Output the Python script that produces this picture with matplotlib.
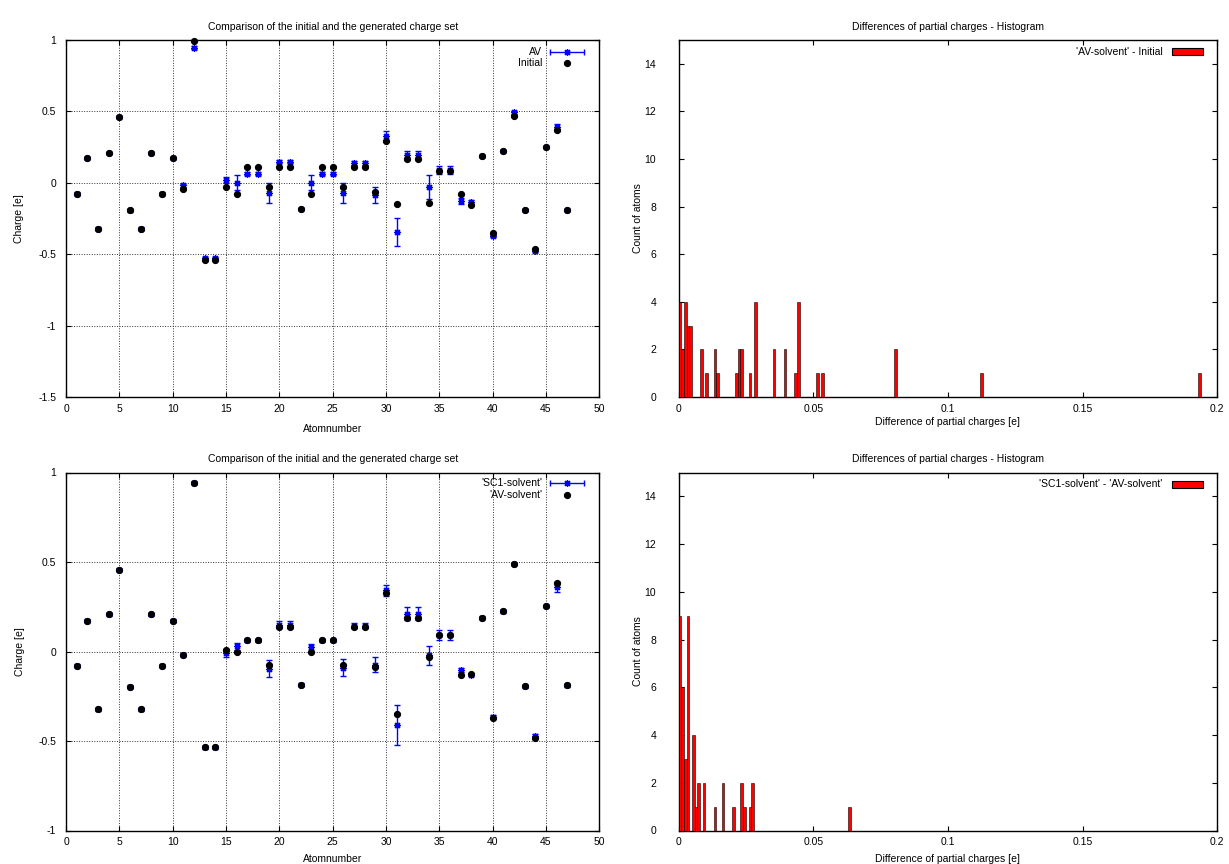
import matplotlib
matplotlib.use('Agg')
import matplotlib.pyplot as plt
from matplotlib.patches import Rectangle
from matplotlib.ticker import FormatStrFormatter, MultipleLocator

plt.rcParams['font.family'] = ['Liberation Sans', 'DejaVu Sans']
plt.rcParams['font.size'] = 7.5
plt.rcParams['axes.unicode_minus'] = False

# ---------------- data ----------------
atoms = list(range(1, 48))

initial = [-0.075, 0.175, -0.321, 0.210, 0.461, -0.193, -0.321, 0.210, -0.075, 0.175,
           -0.042, 0.996, -0.543, -0.543, -0.030, -0.081, 0.109, 0.109, -0.030, 0.109,
           0.109, -0.182, -0.081, 0.109, 0.109, -0.030, 0.109, 0.109, -0.065, 0.291,
           -0.151, 0.168, 0.168, -0.140, 0.086, 0.086, -0.077, -0.156, 0.186, -0.354,
           0.221, 0.470, -0.191, -0.466, 0.251, 0.372, -0.191]

av = [-0.075, 0.175, -0.321, 0.210, 0.461, -0.193, -0.321, 0.210, -0.075, 0.175,
      -0.016, 0.947, -0.530, -0.530, 0.019, 0.000, 0.063, 0.063, -0.070, 0.147,
      0.147, -0.182, 0.000, 0.063, 0.063, -0.070, 0.140, 0.140, -0.086, 0.326,
      -0.345, 0.198, 0.198, -0.028, 0.090, 0.090, -0.128, -0.135, 0.186, -0.373,
      0.221, 0.493, -0.191, -0.477, 0.251, 0.389, -0.191]

av_err = [0.008, 0.008, 0.008, 0.008, 0.008, 0.008, 0.008, 0.008, 0.008, 0.008,
          0.010, 0.010, 0.010, 0.010, 0.020, 0.053, 0.010, 0.010, 0.072, 0.010,
          0.010, 0.008, 0.053, 0.010, 0.010, 0.072, 0.012, 0.012, 0.058, 0.035,
          0.100, 0.023, 0.023, 0.083, 0.028, 0.028, 0.023, 0.012, 0.008, 0.010,
          0.008, 0.010, 0.008, 0.010, 0.008, 0.023, 0.008]

av_solvent = [-0.080, 0.173, -0.323, 0.209, 0.457, -0.196, -0.323, 0.209, -0.080, 0.173,
              -0.019, 0.942, -0.535, -0.535, 0.009, -0.004, 0.062, 0.062, -0.075, 0.136,
              0.136, -0.186, -0.004, 0.062, 0.062, -0.075, 0.136, 0.136, -0.086, 0.326,
              -0.349, 0.187, 0.187, -0.030, 0.093, 0.093, -0.129, -0.125, 0.188, -0.373,
              0.224, 0.489, -0.194, -0.481, 0.254, 0.384, -0.188]

sc1_solvent = [-0.080, 0.173, -0.323, 0.209, 0.457, -0.196, -0.323, 0.209, -0.080, 0.173,
               -0.019, 0.942, -0.535, -0.535, -0.009, 0.028, 0.062, 0.062, -0.097, 0.149,
               0.149, -0.186, 0.024, 0.062, 0.062, -0.091, 0.145, 0.145, -0.073, 0.341,
               -0.410, 0.211, 0.211, -0.022, 0.093, 0.093, -0.103, -0.131, 0.188, -0.364,
               0.224, 0.489, -0.194, -0.470, 0.254, 0.360, -0.188]

sc1_err = [0.008, 0.008, 0.008, 0.008, 0.008, 0.008, 0.008, 0.008, 0.008, 0.008,
           0.008, 0.008, 0.008, 0.008, 0.021, 0.019, 0.008, 0.008, 0.048, 0.020,
           0.020, 0.008, 0.020, 0.008, 0.008, 0.048, 0.015, 0.015, 0.040, 0.032,
           0.110, 0.035, 0.035, 0.054, 0.026, 0.026, 0.010, 0.008, 0.008, 0.010,
           0.008, 0.008, 0.008, 0.010, 0.008, 0.028, 0.008]

# histogram bins (left edge of each 0.001-wide bin) and counts
hist_top_bins = [0.000, 0.001, 0.002, 0.003, 0.004, 0.008, 0.010, 0.013, 0.014, 0.021,
                 0.022, 0.023, 0.026, 0.028, 0.035, 0.039, 0.043, 0.044, 0.051, 0.053,
                 0.080, 0.112, 0.193]
hist_top_counts = [4, 2, 4, 3, 3, 2, 1, 2, 1, 1,
                   2, 2, 1, 4, 2, 2, 1, 4, 1, 1,
                   2, 1, 1]

hist_bot_bins = [0.000, 0.001, 0.002, 0.003, 0.005, 0.006, 0.007, 0.009, 0.013, 0.016,
                 0.020, 0.023, 0.024, 0.026, 0.027, 0.063]
hist_bot_counts = [9, 6, 3, 9, 4, 1, 2, 2, 1, 2,
                   1, 2, 1, 1, 2, 1]
bin_width = 0.001

title_left = "Comparison of the initial and the generated charge set"
title_right = "Differences of partial charges - Histogram"

# ---------------- figure ----------------
W, H = 1229, 864
fig = plt.figure(figsize=(W / 100, H / 100), dpi=100)

def frac(l, t, r, b):
    return [l / W, 1 - b / H, (r - l) / W, (b - t) / H]

ax_tl = fig.add_axes(frac(66, 40, 599.3, 397))
ax_tr = fig.add_axes(frac(678.5, 40, 1217.3, 397))
ax_bl = fig.add_axes(frac(66, 472.5, 599.3, 830.5))
ax_br = fig.add_axes(frac(678.5, 472.5, 1217.3, 830.5))

grid_kw = dict(color='#333333', linestyle=(0, (1, 1.6)), linewidth=0.7)


def style_axes(ax, ypad):
    for s in ax.spines.values():
        s.set_linewidth(1.0)
        s.set_color('black')
    ax.tick_params(direction='in', length=3.5, width=0.8, top=True, right=True,
                   labelsize=7.5, colors='black')
    ax.tick_params(axis='x', pad=5)
    ax.tick_params(axis='y', pad=ypad)


def charge_panel(ax, x, y_err_vals, err, y_dots, ylim, ystep, lab_err, lab_dot, xlpad):
    ax.set_xlim(0, 50)
    ax.set_ylim(*ylim)
    ax.xaxis.set_major_locator(MultipleLocator(5))
    ax.yaxis.set_major_locator(MultipleLocator(ystep))
    ax.yaxis.set_major_formatter(FormatStrFormatter('%g'))
    ax.grid(True, **grid_kw)
    ax.set_axisbelow(True)
    ax.errorbar(x, y_err_vals, yerr=err, fmt='none', ecolor='blue', elinewidth=1.0,
                capsize=2, capthick=1.0, clip_on=False, zorder=3)
    ax.plot(x, y_err_vals, ls='none', marker=(8, 2, 0), ms=5, mew=0.9, color='blue',
            clip_on=False, zorder=4)
    ax.plot(x, y_dots, ls='none', marker='o', ms=4.2, color='black', mec='black',
            clip_on=False, zorder=5)
    ax.set_title(title_left, fontsize=7.5, pad=7.5)
    ax.set_xlabel('Atomnumber', fontsize=7.5, labelpad=xlpad)
    ax.set_ylabel('Charge [e]', fontsize=7.5, labelpad=10)
    style_axes(ax, 7)
    # key (gnuplot-style: right-aligned text, sample on the right)
    tr = ax.transAxes
    y1, y2 = (0.967, 0.935) if ylim[0] < -1.2 else (0.970, 0.937)
    ax.text(0.893, y1, lab_err, transform=tr, ha='right', va='center', fontsize=7.5)
    ax.text(0.893, y2, lab_dot, transform=tr, ha='right', va='center', fontsize=7.5)
    ax.plot([0.9083, 0.9707], [y1, y1], transform=tr, color='blue', lw=1.0)
    ax.plot([0.9083, 0.9707], [y1, y1], transform=tr, ls='none', marker='|',
            ms=4.5, mew=1.0, color='blue')
    ax.plot([0.940], [y1], transform=tr, ls='none', marker=(8, 2, 0), ms=5, mew=0.9,
            color='blue')
    ax.plot([0.940], [y2], transform=tr, ls='none', marker='o', ms=4.2, color='black')


def hist_panel(ax, bins, counts, label, xlpad):
    ax.bar(bins, counts, width=bin_width, align='edge', color='#ff0000',
           edgecolor='black', linewidth=0.4, zorder=3)
    ax.set_xlim(0, 0.2)
    ax.set_ylim(0, 15)
    ax.xaxis.set_major_locator(MultipleLocator(0.05))
    ax.xaxis.set_major_formatter(FormatStrFormatter('%g'))
    ax.yaxis.set_major_locator(MultipleLocator(2))
    ax.set_title(title_right, fontsize=7.5, pad=7.5)
    ax.set_xlabel('Difference of partial charges [e]', fontsize=7.5, labelpad=xlpad)
    ax.set_ylabel('Count of atoms', fontsize=7.5, labelpad=1)
    style_axes(ax, 16)
    tr = ax.transAxes
    ax.text(0.898, 0.967, label, transform=tr, ha='right', va='center', fontsize=7.5)
    ax.add_patch(Rectangle((0.915, 0.958), 0.059, 0.019, transform=tr,
                           facecolor='#ff0000', edgecolor='black', linewidth=0.8))


charge_panel(ax_tl, atoms, av, av_err, initial, (-1.5, 1), 0.5, 'AV', 'Initial', 7.5)
charge_panel(ax_bl, atoms, sc1_solvent, sc1_err, av_solvent, (-1, 1), 0.5,
             "'SC1-solvent'", "'AV-solvent'", 4.5)
hist_panel(ax_tr, hist_top_bins, hist_top_counts, "'AV-solvent' - Initial", 2.5)
hist_panel(ax_br, hist_bot_bins, hist_bot_counts, "'SC1-solvent' - 'AV-solvent'", 4.5)

fig.savefig('out.png', dpi=100)
